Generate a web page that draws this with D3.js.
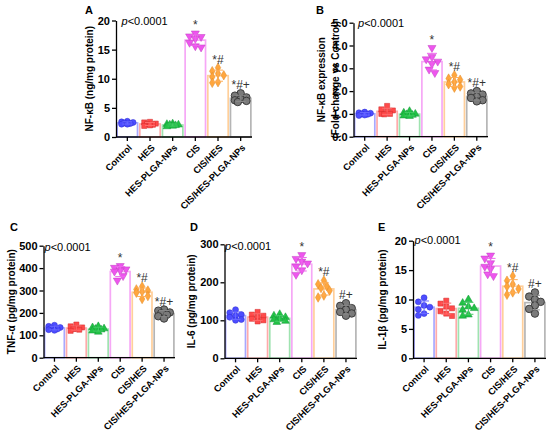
<!DOCTYPE html>
<meta charset="utf-8">
<style>
body {
  margin: 0;
  background: #fff;
}
svg {
  font-family: "Liberation Sans", Arial, Helvetica, sans-serif;
}
.yaxis text {
  font-weight: bold;
  font-size: 11px;
}
.xaxis text {
  font-weight: bold;
  font-size: 9.3px;
}
.axis path, .axis line {
  stroke: #000;
  stroke-width: 1.3;
}
</style>
<body>
<script src="https://d3js.org/d3.v7.min.js"></script>
<script>

var width = 550,
    height = 433;

var groups = ["Control", "HES", "HES-PLGA-NPs", "CIS", "CIS/HES", "CIS/HES-PLGA-NPs"];

// one array per panel, one row of animals per group
var nfkbValues = [
  [2.7, 2.6, 2.5, 2.4, 2.3, 2.2, 2.2],
  [2.6, 2.5, 2.3, 2.2, 2.1, 2.0, 1.9],
  [2.3, 2.2, 2.1, 2.0, 1.9, 1.8, 2.1],
  [17.8, 17.3, 17.2, 16.9, 16.2, 15.4, 15.6],
  [11.9, 11.3, 10.9, 10.6, 10.3, 9.4, 9.3],
  [7.5, 7.1, 6.8, 6.5, 6.3, 6.0, 6.2]
];
var foldValues = [
  [1.08, 1.05, 1.03, 1.0, 0.98, 0.95, 0.93],
  [1.35, 1.2, 1.15, 1.1, 1.0, 0.98, 1.0],
  [1.12, 1.05, 1.0, 0.98, 0.95, 0.9, 0.92],
  [3.9, 3.5, 3.4, 3.3, 3.2, 2.95, 2.8],
  [2.7, 2.55, 2.5, 2.4, 2.3, 2.2, 2.15],
  [2.0, 1.9, 1.85, 1.75, 1.7, 1.6, 1.55]
];
var tnfValues = [
  [145, 140, 135, 132, 128, 125, 122],
  [148, 140, 135, 130, 128, 125, 120],
  [140, 135, 130, 128, 125, 120, 115],
  [410, 402, 395, 390, 385, 365, 345],
  [318, 305, 300, 295, 290, 275, 262],
  [215, 210, 202, 198, 192, 185, 175]
];
var il6Values = [
  [128, 120, 115, 112, 108, 102, 100],
  [122, 115, 112, 108, 104, 100, 97],
  [116, 112, 108, 104, 102, 98, 95],
  [272, 262, 255, 250, 242, 232, 220],
  [205, 195, 190, 185, 178, 165, 160],
  [145, 138, 132, 128, 122, 118, 112]
];
var il1bValues = [
  [10.3, 9.6, 9.0, 8.7, 8.3, 7.6, 7.3],
  [9.8, 9.3, 8.8, 8.5, 8.0, 7.6, 7.2],
  [10.0, 9.4, 8.8, 8.5, 8.2, 7.4, 7.2],
  [17.5, 17.0, 16.2, 15.6, 15.2, 14.3, 14.0],
  [14.0, 13.2, 12.6, 12.2, 11.8, 11.2, 10.8],
  [11.2, 10.5, 10.0, 9.6, 9.0, 8.4, 7.6]
];

var marksStar = ["", "", "", "*", "*#", "*#+"];
var marksHash = ["", "", "", "*", "*#", "#+"];

var ticks20 = [0, 5, 10, 15, 20],
    ticks5 = [0, 1, 2, 3, 4, 5],
    ticks500 = [0, 100, 200, 300, 400, 500],
    ticks300 = [0, 100, 200, 300];

var pointFill = ["#4d4dff", "#ff4a4a", "#22c245", "#ee55ee", "#ffa63d", "#7a7a7a"],
    pointStroke = ["#2a2ad0", "#d02a2a", "#12963a", "#c040c0", "#e08a2a", "#333"],
    barStroke = ["#a8a8ff", "#ffaaaa", "#9fe3b0", "#f6a8f6", "#ffcf9a", "#b5b5b5"],
    errStroke = ["#6a6aff", "#ff6a6a", "#44cc66", "#ee66ee", "#ffad55", "#888"];

var shapes = [d3.symbolCircle, d3.symbolSquare, d3.symbolTriangle, d3.symbolTriangle, d3.symbolDiamond, d3.symbolCircle],
    shapeSize = [28, 26, 26, 28, 26, 44],
    shapeRot = [0, 0, 0, 180, 0, 0];

var panels = [
  {letter: "A", values: nfkbValues, ticks: ticks20, marks: marksStar, title: ["NF-κB (ng/mg protein)"],
   x0: 116, x1: 252, y0: 137, y1: 20.5, titleX: [89], lx: 85, ly: 13.5, px: 121.5, py: 25},
  {letter: "B", values: foldValues, ticks: ticks5, marks: marksStar, title: ["NF-κB expression", "(Fold change vs Control)"],
   x0: 353.5, x1: 488, y0: 136.7, y1: 22.7, titleX: [321.5, 335], lx: 316, ly: 14, px: 358, py: 27},
  {letter: "C", values: tnfValues, ticks: ticks500, marks: marksStar, title: ["TNF-α (pg/mg protein)"],
   x0: 43.5, x1: 175, y0: 357.7, y1: 245.7, titleX: [11], lx: 10, ly: 231, px: 44.5, py: 251},
  {letter: "D", values: il6Values, ticks: ticks300, marks: marksHash, title: ["IL-6 (pg/mg protein)"],
   x0: 224.5, x1: 357, y0: 358.3, y1: 244.3, titleX: [191], lx: 190, ly: 231, px: 225, py: 250},
  {letter: "E", values: il1bValues, ticks: ticks20, marks: marksHash, title: ["IL-1β (pg/mg protein)"],
   x0: 413, x1: 546, y0: 358.3, y1: 240.7, titleX: [382], lx: 378, ly: 231, px: 414.5, py: 243.5}
];

var svg = d3.select("body").append("svg")
    .attr("width", width)
    .attr("height", height);

// simple beeswarm: spread points sideways when they would collide
function swarm(vals, y, r, half) {
  var pts = vals.map(function(v) { return {v: v, py: y(v)}; })
    .sort(function(a, b) { return b.v - a.v; });
  var placed = [];
  var cands = [0];
  for (var k = 1; k <= 4; k++) cands.push(-k * r * 0.9, k * r * 0.9);
  cands = cands.filter(function(c) { return Math.abs(c) <= half; });
  pts.forEach(function(p) {
    var best = null, bestD = -1;
    for (var j = 0; j < cands.length; j++) {
      var dmin = d3.min(placed, function(q) { return Math.hypot(q.dx - cands[j], q.py - p.py); });
      if (dmin === undefined) dmin = Infinity;
      if (dmin >= r * 1.8) { best = cands[j]; break; }
      if (dmin > bestD) { bestD = dmin; best = cands[j]; }
    }
    p.dx = best;
    placed.push(p);
  });
  return pts;
}

panels.forEach(function(p) {
  var yMax = p.ticks[p.ticks.length - 1];

  var y = d3.scaleLinear()
      .domain([0, yMax])
      .range([p.y0, p.y1]);

  var x = d3.scaleBand()
      .domain(groups)
      .range([p.x0, p.x1])
      .paddingInner(0.1)
      .paddingOuter(0.05);

  var g = svg.append("g");

  var stats = p.values.map(function(vals, i) {
    return {name: groups[i], i: i, vals: vals, mean: d3.mean(vals), sd: d3.deviation(vals)};
  });

  // bars
  g.selectAll(".bar")
    .data(stats)
    .enter().append("rect")
      .attr("class", "bar")
      .attr("x", function(d) { return x(d.name); })
      .attr("y", function(d) { return y(d.mean); })
      .attr("width", x.bandwidth())
      .attr("height", function(d) { return y(0) - y(d.mean); })
      .style("fill", "#fff")
      .style("stroke", function(d) { return barStroke[d.i]; })
      .style("stroke-width", 1.7);

  // points
  stats.forEach(function(d) {
    var cx = x(d.name) + x.bandwidth() / 2;
    var pts = swarm(d.vals, y, 3.2, x.bandwidth() / 2 - 3);
    g.selectAll(".pt" + d.i)
      .data(pts)
      .enter().append("path")
        .attr("d", d3.symbol().type(shapes[d.i]).size(shapeSize[d.i]))
        .attr("transform", function(q) { return "translate(" + (cx + q.dx) + "," + q.py + ")rotate(" + shapeRot[d.i] + ")"; })
        .style("fill", pointFill[d.i])
        .style("stroke", pointStroke[d.i])
        .style("stroke-width", d.i == 5 ? 0.9 : 0.5);

    // error bar (SD)
    var eb = g.append("g")
        .style("stroke", errStroke[d.i])
        .style("stroke-width", 1);
    eb.append("line")
      .attr("x1", cx).attr("x2", cx)
      .attr("y1", y(d.mean - d.sd)).attr("y2", y(d.mean + d.sd));
    eb.selectAll(".cap")
      .data([d.mean - d.sd, d.mean + d.sd])
      .enter().append("line")
        .attr("x1", cx - 5).attr("x2", cx + 5)
        .attr("y1", function(v) { return y(v); })
        .attr("y2", function(v) { return y(v); });

    if (p.marks[d.i]) {
      var top = Math.min(y(d3.max(d.vals)), y(d.mean + d.sd));
      g.append("text")
        .attr("x", cx)
        .attr("y", top - 4)
        .attr("text-anchor", "middle")
        .style("font-size", "12px")
        .style("fill", "#333")
        .text(p.marks[d.i]);
    }
  });

  // axes
  g.append("g")
    .attr("class", "axis yaxis")
    .attr("transform", "translate(" + p.x0 + ",0)")
    .call(d3.axisLeft(y).tickValues(p.ticks).tickSize(4).tickSizeOuter(0).tickPadding(2));

  var xa = g.append("g")
    .attr("class", "axis xaxis")
    .attr("transform", "translate(0," + p.y0 + ")")
    .call(d3.axisBottom(x).tickSize(4).tickSizeOuter(0));

  xa.select(".domain").attr("d", "M" + p.x0 + ",0H" + p.x1);

  xa.selectAll("text")
    .attr("x", 0)
    .attr("y", 0)
    .attr("dy", "0.35em")
    .attr("text-anchor", "end")
    .attr("transform", "translate(3,9)rotate(-45)");

  // axis title
  var midY = (p.y0 + p.y1) / 2;
  p.title.forEach(function(t, k) {
    g.append("text")
      .attr("transform", "translate(" + p.titleX[k] + "," + midY + ")rotate(-90)")
      .attr("text-anchor", "middle")
      .attr("dy", "0.35em")
      .style("font-size", "10px")
      .style("font-weight", "bold")
      .text(t);
  });

  // panel letter
  g.append("text")
    .attr("x", p.lx)
    .attr("y", p.ly)
    .style("font-size", "11px")
    .style("font-weight", "bold")
    .text(p.letter);

  // p value
  var pt = g.append("text")
    .attr("x", p.px)
    .attr("y", p.py)
    .style("font-size", "11px");
  pt.append("tspan").style("font-style", "italic").text("p");
  pt.append("tspan").text("<0.0001");
});

</script>
